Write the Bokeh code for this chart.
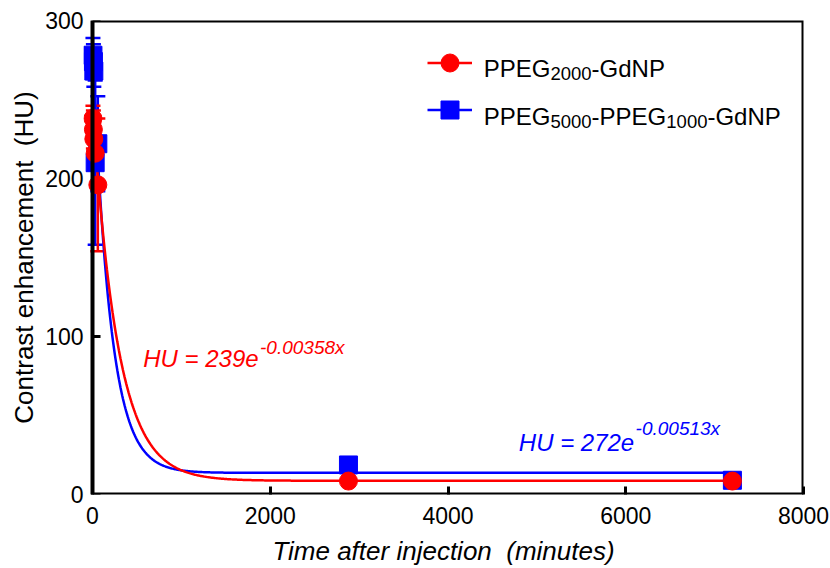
import numpy as np
from bokeh.plotting import figure
from bokeh.models import (ColumnDataSource, Whisker, TeeHead, Label, Legend, LegendItem,
                          BoxAnnotation, FixedTicker, Range1d)
from bokeh.embed import file_html
from bokeh.resources import INLINE

# ---------------- data ----------------
time_a = [5, 10, 15, 30, 60, 2880, 7200]
hu_a = [238, 231, 225, 216, 196, 8.5, 8.5]
err_a = [8, 12, 10, 8, 42, 1, 1]

time_b = [5, 10, 15, 30, 60, 2880, 7200]
hu_b = [278, 274, 268, 210, 222, 18.7, 9.0]
err_b = [11, 11, 10, 52, 30, 2, 1]

# one-phase decay fit parameters (amplitude, rate, plateau)
fit_a = [239, 0.00358, 8.7]
fit_b = [272, 0.00513, 13.7]
fit_end = 7200

x_ticks = [0, 2000, 4000, 6000, 8000]
y_ticks = [0, 100, 200, 300]

RED = "#FF0000"
BLUE = "#0000FF"
FONT = "Liberation Sans"

# ---------------- figure ----------------
X_START = -101.3  # small gap left of x=0 so markers at early times are not clipped
p = figure(width=830, height=568, x_range=Range1d(X_START, 8000), y_range=Range1d(0, 300),
           output_backend="svg", toolbar_location=None,
           min_border_left=83, min_border_right=27, min_border_top=20, min_border_bottom=74)
p.outline_line_color = None
p.grid.visible = False
p.background_fill_color = "white"
p.border_fill_color = "white"


def px_to_x(px):
    return (px - 92) * 8000 / 711


def py_to_y(py):
    return (494 - py) * 300 / 474


# axes
p.xaxis.ticker = FixedTicker(ticks=x_ticks)
p.yaxis.ticker = FixedTicker(ticks=y_ticks)
for ax in (p.xaxis[0], p.yaxis[0]):
    ax.axis_line_color = None
    ax.major_tick_out = 0
    ax.major_tick_line_width = 3
    ax.major_tick_line_color = "black"
    ax.minor_tick_line_color = None
    ax.major_label_text_font = FONT
    ax.major_label_text_font_size = "23px"
    ax.major_label_text_color = "black"
    ax.axis_label_text_font = FONT
    ax.axis_label_text_color = "black"
    ax.axis_label_text_font_size = "26px"

p.xaxis.major_tick_in = 8
p.xaxis.axis_label = "Time after injection\u00a0 (minutes)"
p.xaxis.axis_label_text_font_style = "italic"
p.xaxis.major_label_standoff = 12
p.xaxis.axis_label_standoff = 9

p.yaxis.major_tick_in = 0
p.yaxis.major_tick_line_color = None
p.yaxis.axis_label = "Contrast enhancement\u00a0 (HU)"
p.yaxis.axis_label_text_font_style = "normal"
p.yaxis.major_label_standoff = 0
p.yaxis.axis_label_standoff = 3

# frame box (axis lines at x=0 and y=0)
p.add_layout(BoxAnnotation(left=0, right=8000, bottom=0, top=300, fill_alpha=0,
                           line_color="black", line_alpha=1.0, line_width=4))

# inward y ticks drawn on the x=0 axis line
tick_len = 8 * 8000 / 711
p.segment(x0=[0] * len(y_ticks), y0=y_ticks, x1=[tick_len] * len(y_ticks), y1=y_ticks,
          line_color="black", line_width=3)


# ---------------- error bars ----------------
def make_src(t, v, e):
    return ColumnDataSource(dict(t=t, v=v, up=[a + b for a, b in zip(v, e)],
                                 lo=[a - b for a, b in zip(v, e)]))


src_a = make_src(time_a, hu_a, err_a)
src_b = make_src(time_b, hu_b, err_b)

for src, col in ((src_b, BLUE), (src_a, RED)):
    p.add_layout(Whisker(base="t", upper="up", lower="lo", source=src, dimension="height",
                         line_color=col, line_width=2.5,
                         upper_head=TeeHead(size=15, line_color=col, line_width=2.5),
                         lower_head=TeeHead(size=15, line_color=col, line_width=2.5)))

# ---------------- fitted curves ----------------
xf = np.linspace(0, fit_end, 800)
yf_a = fit_a[0] * np.exp(-fit_a[1] * xf) + fit_a[2]
yf_b = fit_b[0] * np.exp(-fit_b[1] * xf) + fit_b[2]

line_b = p.line(xf, yf_b, line_color=BLUE, line_width=2.5)
line_a = p.line(xf, yf_a, line_color=RED, line_width=2.5)

sq_b = p.scatter("t", "v", source=src_b, marker="square", size=18,
                 fill_color=BLUE, line_color=BLUE)
ci_a = p.scatter("t", "v", source=src_a, marker="circle", size=18,
                 fill_color=RED, line_color=RED)

# ---------------- legend (glyphs) ----------------
legend = Legend(items=[LegendItem(label=" ", renderers=[line_a, ci_a]),
                       LegendItem(label=" ", renderers=[line_b, sq_b])],
                location=(343.5, 362.5), glyph_width=45, glyph_height=45, spacing=2,
                padding=0, margin=0, border_line_color=None, background_fill_alpha=0,
                label_standoff=0, label_width=1, label_text_font_size="1px")
p.add_layout(legend)


def add_text(px, py_base, offset, text, size, color, style="normal"):
    p.add_layout(Label(x=px_to_x(px), y=py_to_y(py_base), x_offset=offset, text=text,
                       text_font=FONT, text_font_size=size, text_color=color,
                       text_font_style=style, text_baseline="alphabetic",
                       text_align="left"))


# legend texts with subscripts
add_text(483.3, 68.3, 0, "PPEG", "24px", "black")
add_text(483.3, 73.3, 66.7, "2000", "18.5px", "black")
add_text(483.3, 68.3, 107.8, "-GdNP", "24px", "black")

add_text(483.3, 115.6, 0, "PPEG", "24px", "black")
add_text(483.3, 120.6, 66.7, "5000", "18.5px", "black")
add_text(483.3, 115.6, 107.8, "-PPEG", "24px", "black")
add_text(483.3, 120.6, 182.5, "1000", "18.5px", "black")
add_text(483.3, 115.6, 223.6, "-GdNP", "24px", "black")

# equations
add_text(142.7, 358.3, 0, "HU = 239e", "24px", RED, "italic")
add_text(142.7, 346.7, 116.8, "-0.00358x", "19px", RED, "italic")
add_text(518.3, 441.7, 0, "HU = 272e", "24px", BLUE, "italic")
add_text(518.3, 428.3, 116.8, "-0.00513x", "19px", BLUE, "italic")

open("out.html", "w").write(file_html(p, INLINE))
